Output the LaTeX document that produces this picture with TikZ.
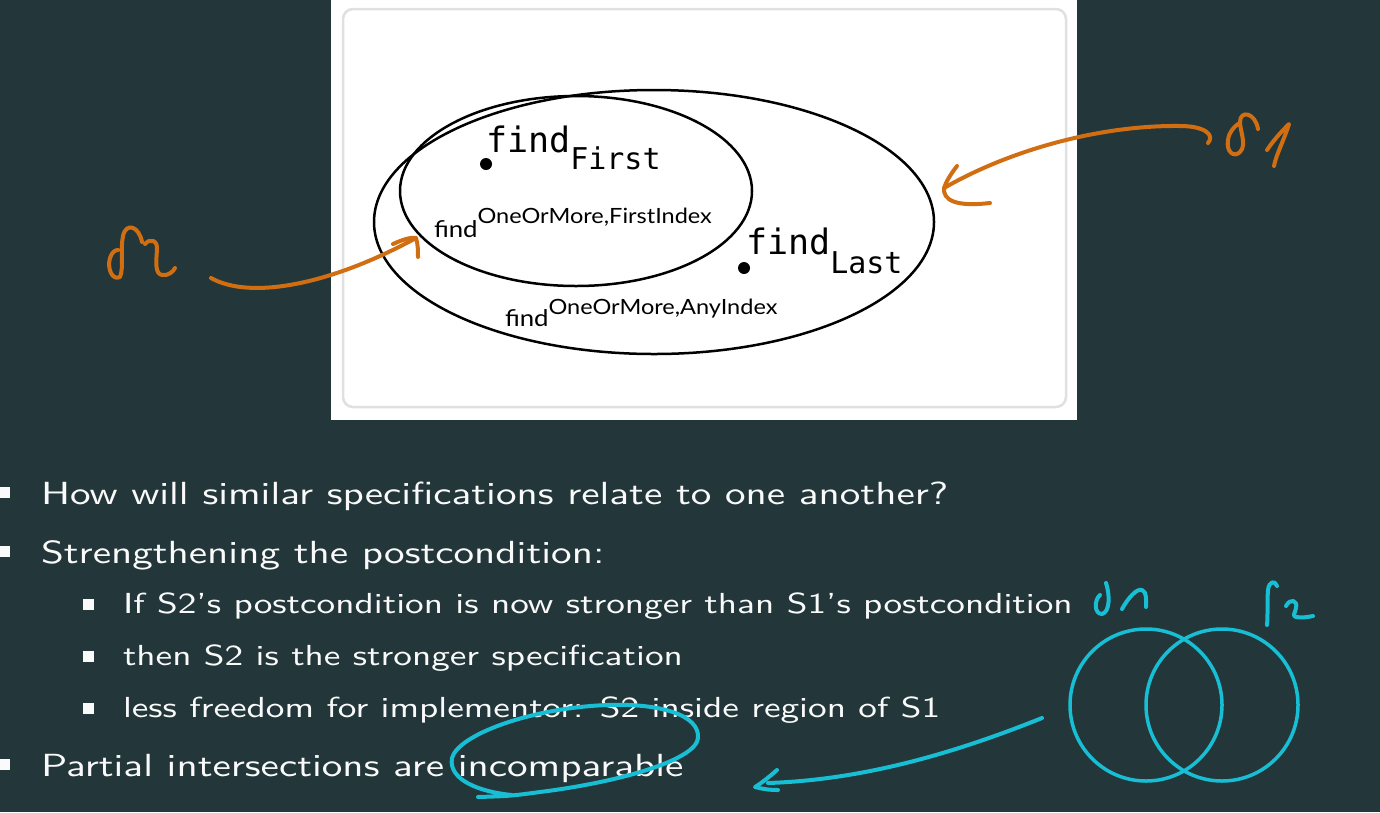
\documentclass[tikz,border=0pt]{standalone}
\usepackage{fontspec}
\newfontfamily\slidefont{lmsans10-regular.otf}[FakeStretch=1.285, Ligatures=TeX]
\newfontfamily\specfont{Lato}[FakeStretch=1.12]
\newfontfamily\codefont{DejaVu Sans Mono}
\usetikzlibrary{shapes.geometric}
\usetikzlibrary{positioning}
\definecolor{slidebg}{HTML}{23373B}
\definecolor{slidefg}{HTML}{FAFAFA}
\definecolor{inkorange}{RGB}{210,110,18}
\definecolor{inkcyan}{RGB}{24,190,212}
\definecolor{frameline}{RGB}{224,224,224}

\begin{document}
\begin{tikzpicture}[x=1pt, y=-1pt,
    every node/.style={inner sep=0pt, outer sep=0pt},
    spec/.style={draw, ellipse, line width=2.5pt},
    point/.style={circle, fill, minimum size=12pt},
    ink/.style={line width=4pt, line cap=round, line join=round},
    toplevel/.style={anchor=base west, text=slidefg, font=\slidefont\fontsize{32}{38}\selectfont},
    sublevel/.style={anchor=base west, text=slidefg, font=\slidefont\fontsize{29}{35}\selectfont},
    bullet/.style={fill=slidefg, minimum size=11pt},
    venn/.style={draw=inkcyan, circle, line width=3.5pt, minimum size=152pt},
  ]
    \fill[slidebg] (0,0) rectangle (1380,812);
    \useasboundingbox (0,0) rectangle (1380,812);

    % the figure
    \fill[white] (331,0) rectangle (1077,420);
    \draw[frameline, line width=2.5pt, rounded corners=10pt] (343,9) rectangle (1066,407);

    \node[spec, minimum width=560pt, minimum height=264pt] (anyidx) at (654,222) {};
    \node[spec, minimum width=352pt, minimum height=190pt] (firstidx) at (576,191) {};

    \node[point] (pfirst) at (486,164) {};
    \node[point] (plast) at (744,268) {};
    \node[anchor=base west] (lfirst) at (486,152)
        {\codefont\fontsize{35}{35}\selectfont find\raisebox{-17pt}{\fontsize{30}{30}\selectfont First}};
    \node[anchor=base west] (llast) at (746,254)
        {\codefont\fontsize{35}{35}\selectfont find\raisebox{-19pt}{\fontsize{30}{30}\selectfont Last}};
    \node[anchor=base west] (lfirstidx) at (434,237)
        {\specfont\fontsize{23}{23}\selectfont find\raisebox{14pt}{\fontsize{21}{21}\selectfont OneOrMore,FirstIndex}};
    \node[anchor=base west] (lanyidx) at (505,326)
        {\specfont\fontsize{23}{23}\selectfont find\raisebox{12pt}{\fontsize{21}{21}\selectfont OneOrMore,AnyIndex}};

    % bullets
    \node[bullet] (b1) at (4.5,492.5) {};
    \node[toplevel] (t1) at (41,504) {How will similar specifications relate to one another?};
    \node[bullet] (b2) at (4.5,551.5) {};
    \node[toplevel] (t2) at (41,563) {Strengthening the postcondition:};
    \node[bullet] (b3) at (88.5,604) {};
    \node[sublevel] (t3) at (123,613) {If S2's postcondition is now stronger than S1's postcondition};
    \node[bullet] (b4) at (88.5,656) {};
    \node[sublevel] (t4) at (123,665) {then S2 is the stronger specification};
    \node[bullet] (b5) at (88.5,708) {};
    \node[sublevel] (t5) at (123,717) {less freedom for implementor: S2 inside region of S1};
    \node[bullet] (b6) at (4.5,764.5) {};
    \node[toplevel] (t6) at (41,776) {Partial intersections are incomparable};

    % orange ink
    \coordinate (s1tail) at (1208,143);
    \coordinate (s1tip) at (944,188);
    \coordinate (s2tail) at (211,278);
    \coordinate (s2tip) at (416,238);
    \draw[ink, inkorange] (1258,129) .. controls (1255,112) and (1240,110) .. (1240,122)
        .. controls (1240,131) and (1247,145) .. (1240,152) .. controls (1234,158) and (1226,152) .. (1228,140)
        .. controls (1229,132) and (1234,127) .. (1238,124);
    \draw[ink, inkorange] (1267,150) .. controls (1275,138) and (1285,128) .. (1289,124)
        .. controls (1284,140) and (1276,155) .. (1274,166);
    \draw[ink, inkorange] (s1tail) .. controls (1215,135) and (1205,126) .. (1180,126)
        .. controls (1100,125) and (1010,150) .. (s1tip);
    \draw[ink, inkorange] (957,166) .. controls (950,175) and (946,182) .. (s1tip)
        .. controls (943,200) and (955,207) .. (990,203);
    \draw[ink, inkorange] (142,242) .. controls (139,226) and (126,222) .. (123,236)
        .. controls (120,250) and (124,268) .. (120,277) .. controls (112,281) and (107,268) .. (110,258)
        .. controls (112,252) and (115,250) .. (118,250);
    \draw[ink, inkorange] (145,244) .. controls (150,238) and (158,240) .. (157,250)
        .. controls (156,262) and (155,274) .. (162,275) .. controls (168,276) and (173,272) .. (175,268);
    \draw[ink, inkorange] (s2tail) .. controls (250,300) and (330,285) .. (s2tip);
    \draw[ink, inkorange] (393,244) .. controls (402,240) and (410,237) .. (s2tip)
        .. controls (418,245) and (418,250) .. (418,257);

    % cyan ink
    \node[venn] (vs1) at (1146,705) {};
    \node[venn] (vs2) at (1222,705) {};
    \coordinate (inctail) at (1042,718);
    \coordinate (inctip) at (755,787);
    \draw[ink, inkcyan] (1106,583) .. controls (1110,595) and (1110,612) .. (1102,614)
        .. controls (1094,614) and (1094,600) .. (1100,595);
    \draw[ink, inkcyan] (1122,609) .. controls (1128,598) and (1137,588) .. (1142,590)
        .. controls (1147,592) and (1146,600) .. (1146,607);
    \draw[ink, inkcyan] (1277,586) .. controls (1275,580) and (1269,581) .. (1268,590)
        .. controls (1267,603) and (1268,615) .. (1267,625);
    \draw[ink, inkcyan] (1286,606) .. controls (1290,598) and (1298,600) .. (1296,608)
        .. controls (1295,613) and (1292,616) .. (1296,617) .. controls (1302,618) and (1308,617) .. (1313,616);
    \draw[ink, inkcyan] (inctail) .. controls (950,755) and (860,780) .. (768,783);
    \draw[ink, inkcyan] (777,770) .. controls (768,778) and (760,784) .. (inctip)
        .. controls (762,789) and (770,790) .. (778,790);
    \draw[ink, inkcyan] (512,795) .. controls (480,792) and (448,780) .. (452,758)
        .. controls (458,735) and (530,708) .. (607,705) .. controls (660,703) and (700,715) .. (698,738)
        .. controls (696,760) and (620,782) .. (540,792) .. controls (510,796) .. (478,797);
\end{tikzpicture}
\end{document}
